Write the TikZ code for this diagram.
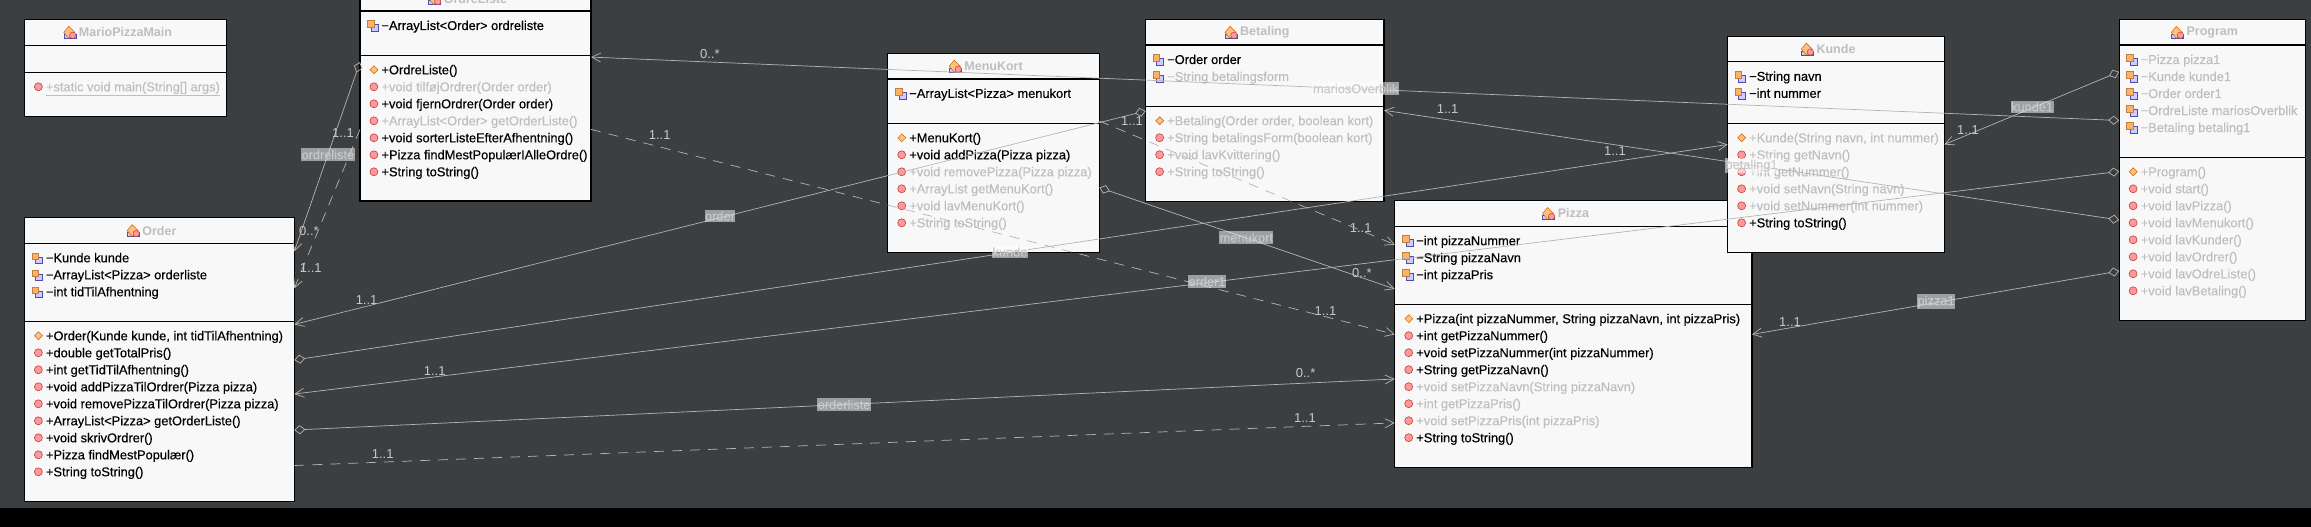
\documentclass[tikz,border=0pt]{standalone}
\usepackage{fontspec}
\setmainfont{Liberation Sans}
\newfontfamily\inkfamily[FakeBold=0.35]{Liberation Sans}
\newfontfamily\dimfamily[FakeBold=0.15]{Liberation Sans}
\usetikzlibrary{arrows.meta}

\definecolor{winbg}{HTML}{3C3F41}
\definecolor{boxfill}{HTML}{F8F8F8}
\definecolor{dimtext}{HTML}{BEBEBE}
\definecolor{wire}{HTML}{B4B4B4}
\definecolor{marktext}{HTML}{C8C8C8}

\tikzset{
  classbox/.style={draw=black,line width=1.2pt,fill=boxfill,anchor=north west,inner sep=0,outer sep=0},
  classline/.style={draw=black,line width=1pt},
  classtitle/.style={inner sep=0,text=dimtext,font=\fontsize{12.5}{14}\selectfont\bfseries},
  rowtext/.style={anchor=west,inner sep=0,text height=10pt,text depth=1pt},
  inkrow/.style={rowtext,text=black,font=\fontsize{12.85}{14}\inkfamily},
  dimrow/.style={rowtext,text=dimtext,font=\fontsize{12.85}{14}\dimfamily},
  assoc/.style={draw=wire,line width=0.7pt},
  dep/.style={assoc,dash pattern=on 10pt off 8pt},
  headto/.style={-{Straight Barb[length=9pt,width=9pt]}},
  hashead/.style={{Diamond[open,length=11pt,width=9pt]}-{Straight Barb[length=9pt,width=9pt]}},
  edgelabel/.style={fill=white,fill opacity=0.5,text opacity=1,text=marktext,inner xsep=0.5pt,inner ysep=1.5pt,font=\fontsize{12.8}{14}\dimfamily},
  mult/.style={inner sep=0,text=marktext,font=\fontsize{13}{14}\selectfont},
  pics/fieldicon/.style={code={
    \draw[draw=blue!40!gray,fill=blue!20!white,line width=0.5pt] (-1.5,-1) rectangle (5.5,5.5);
    \draw[draw=brown,fill=orange!60!white,line width=0.5pt] (-5,-5) rectangle (1.5,1.5);
  }},
  pics/methodicon/.style={code={
    \draw[draw=red!50!gray,fill=red!40!white,line width=0.6pt] (1.4,0) circle (4);
  }},
  pics/ctoricon/.style={code={
    \draw[draw=orange!80!black,fill=orange!50!white,line width=0.5pt] (1.5,-4) -- (5.5,0) -- (1.5,4) -- (-2.5,0) -- cycle;
  }},
  pics/classicon/.style={code={
    \draw[draw=blue!40!gray,fill=blue!20!white,line width=0.5pt] (-6,2) rectangle (6,6);
    \draw[draw=orange!80!black,fill=orange!50!white,line width=0.5pt] (-1,-6) -- (5,0) -- (-1,6) -- (-6,0) -- cycle;
    \draw[draw=red!50!gray,fill=red!40!white,line width=0.5pt] (3,3) circle (3.2);
  }},
}

% title of a class box: text centred, icon to its left
\newcommand{\classhead}[2]{%
  \node[classtitle] (#1Title) at ([yshift=-12.8pt]#1.north) {#2};
  \pic at ([xshift=-9pt]#1Title.west) {classicon};
  \draw[classline] ([yshift=-25.7pt]#1.north west) -- ([yshift=-25.7pt]#1.north east);
}
% rule above a section and its rows; #2 is the first row below the box top
\newcommand{\classrows}[3]{%
  \draw[classline] ([yshift={-(#2-14.5)*1pt}]#1.north west) -- ([yshift={-(#2-14.5)*1pt}]#1.north east);
  \foreach \ic/\sty/\txt [count=\i] in {#3} {
    \pic at ([xshift=12.5pt,yshift={-(#2+17*(\i-1))*1pt}]#1.north west) {\ic};
    \node[\sty] (#1row#2n\i) at ([xshift=21.3pt,yshift={-(#2+17*(\i-1))*1pt}]#1.north west) {\txt};
  }
}

\begin{document}
\begin{tikzpicture}[x=1pt,y=-1pt]

\useasboundingbox (0,0) rectangle (2311,527);
\fill[winbg] (0,0) rectangle (2311,527);
\fill[black] (0,507.6) rectangle (2311,527);

% MarioPizzaMain
\node[classbox,minimum width=202pt,minimum height=96.8pt] (mariopizzamain) at (24.5,19.5) {};
\classhead{mariopizzamain}{MarioPizzaMain}
\classrows{mariopizzamain}{67.3}{methodicon/dimrow/{\underline{+static void main(String[] args)}}}

% OrdreListe
\node[classbox,minimum width=231pt,minimum height=215.2pt] (ordreliste) at (360,-14.2) {};
\classhead{ordreliste}{OrdreListe}
\classrows{ordreliste}{39.7}{fieldicon/inkrow/{−ArrayList<Order> ordreliste}}
\classrows{ordreliste}{84}{ctoricon/inkrow/{+OrdreListe()},
  methodicon/dimrow/{+void tilføjOrdrer(Order order)},
  methodicon/inkrow/{+void fjernOrdrer(Order order)},
  methodicon/dimrow/{+ArrayList<Order> getOrderListe()},
  methodicon/inkrow/{+void sorterListeEfterAfhentning()},
  methodicon/inkrow/{+Pizza findMestPopulærIAlleOrdre()},
  methodicon/inkrow/{+String toString()}}

% Order
\node[classbox,minimum width=269.8pt,minimum height=283.7pt] (order) at (24.5,217.8) {};
\classhead{order}{Order}
\classrows{order}{40}{fieldicon/inkrow/{−Kunde kunde},
  fieldicon/inkrow/{−ArrayList<Pizza> orderliste},
  fieldicon/inkrow/{−int tidTilAfhentning}}
\classrows{order}{118}{ctoricon/inkrow/{+Order(Kunde kunde, int tidTilAfhentning)},
  methodicon/inkrow/{+double getTotalPris()},
  methodicon/inkrow/{+int getTidTilAfhentning()},
  methodicon/inkrow/{+void addPizzaTilOrdrer(Pizza pizza)},
  methodicon/inkrow/{+void removePizzaTilOrdrer(Pizza pizza)},
  methodicon/inkrow/{+ArrayList<Pizza> getOrderListe()},
  methodicon/inkrow/{+void skrivOrdrer()},
  methodicon/inkrow/{+Pizza findMestPopulær()},
  methodicon/inkrow/{+String toString()}}

% MenuKort
\node[classbox,minimum width=211.6pt,minimum height=199pt] (menukort) at (887.8,53.4) {};
\classhead{menukort}{MenuKort}
\classrows{menukort}{40}{fieldicon/inkrow/{−ArrayList<Pizza> menukort}}
\classrows{menukort}{84.4}{ctoricon/inkrow/{+MenuKort()},
  methodicon/inkrow/{+void addPizza(Pizza pizza)},
  methodicon/dimrow/{+void removePizza(Pizza pizza)},
  methodicon/dimrow/{+ArrayList getMenuKort()},
  methodicon/dimrow/{+void lavMenuKort()},
  methodicon/dimrow/{+String toString()}}

% Betaling
\node[classbox,minimum width=238.3pt,minimum height=181.8pt] (betaling) at (1145.7,19.5) {};
\classhead{betaling}{Betaling}
\classrows{betaling}{40}{fieldicon/inkrow/{−Order order},
  fieldicon/dimrow/{−String betalingsform}}
\classrows{betaling}{101.2}{ctoricon/dimrow/{+Betaling(Order order, boolean kort)},
  methodicon/dimrow/{+String betalingsForm(boolean kort)},
  methodicon/dimrow/{+void lavKvittering()},
  methodicon/dimrow/{+String toString()}}

% Pizza, Kunde lies over its corner
\node[classbox,minimum width=357.2pt,minimum height=266.5pt] (pizza) at (1394.8,200.7) {};
\classhead{pizza}{Pizza}
\classrows{pizza}{40}{fieldicon/inkrow/{−int pizzaNummer},
  fieldicon/inkrow/{−String pizzaNavn},
  fieldicon/inkrow/{−int pizzaPris}}
\classrows{pizza}{118}{ctoricon/inkrow/{+Pizza(int pizzaNummer, String pizzaNavn, int pizzaPris)},
  methodicon/inkrow/{+int getPizzaNummer()},
  methodicon/inkrow/{+void setPizzaNummer(int pizzaNummer)},
  methodicon/inkrow/{+String getPizzaNavn()},
  methodicon/dimrow/{+void setPizzaNavn(String pizzaNavn)},
  methodicon/dimrow/{+int getPizzaPris()},
  methodicon/dimrow/{+void setPizzaPris(int pizzaPris)},
  methodicon/inkrow/{+String toString()}}

% Kunde
\node[classbox,minimum width=216.6pt,minimum height=216.1pt] (kunde) at (1727.7,36.3) {};
\classhead{kunde}{Kunde}
\classrows{kunde}{40}{fieldicon/inkrow/{−String navn},
  fieldicon/inkrow/{−int nummer}}
\classrows{kunde}{101.5}{ctoricon/dimrow/{+Kunde(String navn, int nummer)},
  methodicon/dimrow/{+String getNavn()},
  methodicon/dimrow/{+int getNummer()},
  methodicon/dimrow/{+void setNavn(String navn)},
  methodicon/dimrow/{+void setNummer(int nummer)},
  methodicon/inkrow/{+String toString()}}

% Program
\node[classbox,minimum width=186.1pt,minimum height=300.8pt] (program) at (2119.2,19.5) {};
\classhead{program}{Program}
\classrows{program}{40}{fieldicon/dimrow/{−Pizza pizza1},
  fieldicon/dimrow/{−Kunde kunde1},
  fieldicon/dimrow/{−Order order1},
  fieldicon/dimrow/{−OrdreListe mariosOverblik},
  fieldicon/dimrow/{−Betaling betaling1}}
\classrows{program}{152.3}{ctoricon/dimrow/{+Program()},
  methodicon/dimrow/{+void start()},
  methodicon/dimrow/{+void lavPizza()},
  methodicon/dimrow/{+void lavMenukort()},
  methodicon/dimrow/{+void lavKunder()},
  methodicon/dimrow/{+void lavOrdrer()},
  methodicon/dimrow/{+void lavOdreListe()},
  methodicon/dimrow/{+void lavBetaling()}}

% Associations
\draw[assoc,hashead] ([yshift=-76.2pt]ordreliste.north west) -- ([yshift=-33.6pt]order.north east);
\draw[assoc,hashead] ([yshift=-91.5pt]betaling.north west) -- ([yshift=-106.6pt]order.north east);
\draw[assoc,hashead] ([yshift=-142.2pt]order.north east) -- ([yshift=-108.2pt]kunde.north west);
\draw[assoc,hashead] ([yshift=-151.9pt]program.north west) -- ([yshift=-176.2pt]order.north east);
\draw[assoc,hashead] ([yshift=-212.2pt]order.north east) -- ([yshift=-178.3pt]pizza.north west);
\draw[assoc,hashead] ([yshift=-101pt]program.north west) -- ([yshift=-71.3pt]ordreliste.north east);
\draw[assoc,hashead] ([yshift=-134.2pt]menukort.north east) -- ([yshift=-88.3pt]pizza.north west);
\draw[assoc,hashead] ([yshift=-200.5pt]program.north west) -- ([yshift=-90.8pt]betaling.north east);
\draw[assoc,hashead] ([yshift=-52.3pt]program.north west) -- ([yshift=-108.2pt]kunde.north east);
\draw[assoc,hashead] ([yshift=-251.5pt]program.north west) -- ([yshift=-133.7pt]pizza.north east);

% Dependencies
\draw[dep,headto] ([yshift=-143.6pt]ordreliste.north west) -- ([yshift=-70.6pt]order.north east);
\draw[dep,headto] ([yshift=-247.7pt]order.north east) -- ([yshift=-222.2pt]pizza.north west);
\draw[dep,headto] ([yshift=-143.6pt]ordreliste.north east) -- ([yshift=-133.7pt]pizza.north west);
\draw[dep,headto] ([yshift=-67.6pt]menukort.north east) -- ([yshift=-44pt]pizza.north west);

% Names on the connectors
\node[edgelabel] (lblOrdreliste) at (327.8,154.6) {ordreliste};
\node[edgelabel] (lblOrder) at (720,216) {order};
\node[edgelabel] (lblKunde) at (1010,252) {kunde};
\node[edgelabel] (lblOrder1) at (1207,281.5) {order1};
\node[edgelabel] (lblOrderliste) at (844,404.5) {orderliste};
\node[edgelabel] (lblMarios) at (1355.6,88.6) {mariosOverblik};
\node[edgelabel] (lblMenukort) at (1246.3,237.6) {menukort};
\node[edgelabel] (lblBetaling1) at (1751.5,165.7) {betaling1};
\node[edgelabel] (lblKunde1) at (2032,106.7) {kunde1};
\node[edgelabel] (lblPizza1) at (1936,301.7) {pizza1};

% Multiplicities
\node[mult] (m1) at (343,132.8) {1..1};
\node[mult] (m2) at (309,230.6) {0..*};
\node[mult] (m3) at (310.8,268.2) {1..1};
\node[mult] (m4) at (366.6,300) {1..1};
\node[mult] (m5) at (434.7,370.8) {1..1};
\node[mult] (m6) at (382.7,453.8) {1..1};
\node[mult] (m7) at (709.8,53.8) {0..*};
\node[mult] (m8) at (659.7,135.5) {1..1};
\node[mult] (m9) at (1132,121) {1..1};
\node[mult] (m10) at (1447.6,109.2) {1..1};
\node[mult] (m11) at (1614.9,151.3) {1..1};
\node[mult] (m12) at (1360.7,227.6) {1..1};
\node[mult] (m13) at (1361.9,273.3) {0..*};
\node[mult] (m14) at (1325.5,311) {1..1};
\node[mult] (m15) at (1305.6,373) {0..*};
\node[mult] (m16) at (1304.9,417.8) {1..1};
\node[mult] (m17) at (1968,130.4) {1..1};
\node[mult] (m18) at (1790,321.7) {1..1};

\end{tikzpicture}
\end{document}
